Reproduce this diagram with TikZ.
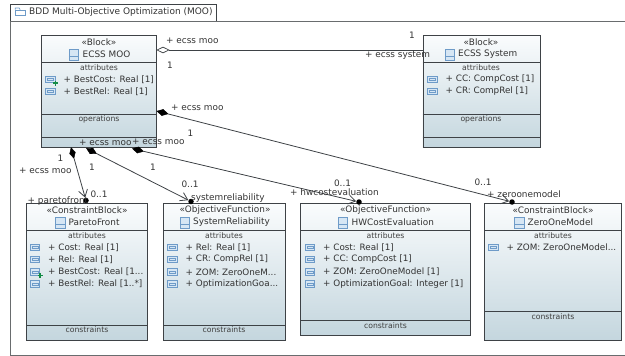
\documentclass[tikz,border=0pt]{standalone}
\usepackage{fontspec}
\setmainfont{DejaVu Sans}
\usetikzlibrary{positioning,arrows.meta,shapes.geometric,calc}

\definecolor{edgeGray}{RGB}{62,66,70}
\definecolor{frameGray}{RGB}{105,108,110}
\definecolor{topFill}{RGB}{250,252,253}
\definecolor{botFill}{RGB}{196,214,222}
\definecolor{iconBlue}{RGB}{110,155,200}
\definecolor{iconFill}{RGB}{214,230,244}
\definecolor{plusGreen}{RGB}{20,140,70}

\tikzset{
  umlblock/.style={draw=edgeGray, line width=.9pt, top color=topFill, bottom color=botFill, inner sep=0pt, anchor=north west},
  rolename/.style={font=\fontsize{8.9}{10}\selectfont, text=black!80, inner sep=0pt},
  compname/.style={font=\fontsize{7.7}{9}\selectfont, text=black!75, inner sep=0pt},
  attr/.style={font=\fontsize{8.8}{10}\selectfont, text=black!80, inner sep=0pt, anchor=west},
  icon/.style={draw=iconBlue, fill=iconFill, line width=.7pt, minimum width=9.5pt, minimum height=6.5pt, inner sep=0pt},
  headicon/.style={draw=iconBlue, fill=iconFill, line width=.6pt, minimum width=9.5pt, minimum height=11pt, inner sep=0pt},
  comp/.style={edgeGray, line width=.8pt},
  assoc/.style={edgeGray, line width=.8pt},
  ownerTip/.style={draw=black, fill=black, diamond, minimum width=11.5pt, minimum height=6.5pt, inner sep=0pt},
  ball/.style={fill=black, circle, minimum size=5.5pt, inner sep=0pt},
  navArrow/.style={-{Straight Barb[length=7pt,width=9pt]}},
}
% one box: name, x1, y1, x2, y2
\newcommand{\umlbox}[5]{
  \node[umlblock, minimum width=#4pt-#2pt, minimum height=#5pt-#3pt] (#1) at (#2,#3) {};
}
% one attribute row: name, x of icon, y, text
\newcommand{\attrow}[4]{
  \node[icon] (#1) at (#2,#3) {};
  \draw[iconBlue, line width=.6pt] ($(#1.center)+(-2.8pt,-1.2pt)$) rectangle ($(#1.center)+(2.8pt,1.2pt)$);
  \node[attr] (#1T) at (#2+13,#3) {+ #4};
}
\newcommand{\plusmark}[1]{
  \draw[plusGreen, line width=1.5pt] ($(#1.south east)+(-2.6pt,0)$) -- ($(#1.south east)+(2.6pt,0)$);
  \draw[plusGreen, line width=1.5pt] ($(#1.south east)+(0,-2.6pt)$) -- ($(#1.south east)+(0,2.6pt)$);
}
% icon in a header: name, x, y
\newcommand{\headmark}[3]{
  \node[headicon] (#1) at (#2,#3) {};
  \draw[iconBlue, line width=.6pt] ($(#1.west)+(0,-1.5pt)$) -- ($(#1.east)+(0,-1.5pt)$);
}

\begin{document}
\begin{tikzpicture}[x=1pt, y=-1pt]
    \useasboundingbox (0,0) rectangle (625,356);

    % frame and tab
    \draw[frameGray, line width=.9pt] (626,21) -- (10,21) -- (10,355) -- (626,355);
    \draw[edgeGray, line width=.7pt] (10,21) -- (10,4) -- (216,4) -- (216,21);
    \node[draw=iconBlue, line width=.7pt, minimum width=10pt, minimum height=5.5pt, inner sep=0pt] (tabIcon) at (20.5,12.8) {};
    \draw[iconBlue, line width=.7pt] (tabIcon.north west) -- ++(0,-1.8) -- ++(4,0) -- ++(1,1.8);
    \node[rolename, anchor=west, font=\fontsize{9}{10}\selectfont] (frameTitle) at (29,12) {BDD Multi-Objective Optimization (MOO)};

    % blocks
    \umlbox{moo}{41}{35}{156}{147}
    \umlbox{system}{422.5}{35}{539.5}{147}
    \umlbox{pareto}{26}{203}{147}{340}
    \umlbox{sysrel}{163}{203}{285}{340}
    \umlbox{hwcost}{300}{203}{470}{335}
    \umlbox{zeroone}{484}{203}{621}{340}

    % compartments
    \draw[comp] (41,62) -- (156,62);
    \draw[comp] (41,114) -- (156,114);
    \draw[comp] (41,137.5) -- (156,137.5);
    \draw[comp] (422.5,62) -- (539.5,62);
    \draw[comp] (422.5,114) -- (539.5,114);
    \draw[comp] (422.5,137.5) -- (539.5,137.5);
    \draw[comp] (26,230) -- (147,230);
    \draw[comp] (26,325) -- (147,325);
    \draw[comp] (163,230) -- (285,230);
    \draw[comp] (163,325) -- (285,325);
    \draw[comp] (300,230) -- (470,230);
    \draw[comp] (300,320) -- (470,320);
    \draw[comp] (484,230) -- (621,230);
    \draw[comp] (484,311) -- (621,311);

    % headers
    \node[rolename] (mooSt) at (99,42.5) {«Block»};
    \node[rolename, anchor=west] (mooName) at (82.5,54.5) {ECSS MOO};
    \headmark{mooIcon}{74}{54.5}
    \node[compname] (mooAttr) at (99,67.5) {attributes};
    \node[compname] (mooOps) at (99,119.5) {operations};
    \node[rolename] (sysSt) at (481,42.5) {«Block»};
    \node[rolename, anchor=west] (sysName) at (458,54.5) {ECSS System};
    \headmark{sysIcon}{450}{54.5}
    \node[compname] (sysAttr) at (481,67.5) {attributes};
    \node[compname] (sysOps) at (481,119.5) {operations};
    \node[rolename] (parSt) at (87,210.5) {«ConstraintBlock»};
    \node[rolename, anchor=west] (parName) at (68.5,222.5) {ParetoFront};
    \headmark{parIcon}{60.5}{222.5}
    \node[compname] (parAttr) at (87,235.5) {attributes};
    \node[compname] (parCons) at (87,330) {constraints};
    \node[rolename] (relSt) at (225,210.5) {«ObjectiveFunction»};
    \node[rolename, anchor=west] (relName) at (193,222.5) {SystemReliability};
    \headmark{relIcon}{185}{222.5}
    \node[compname] (relAttr) at (224,235.5) {attributes};
    \node[compname] (relCons) at (224,330) {constraints};
    \node[rolename] (hwSt) at (385.5,210.5) {«ObjectiveFunction»};
    \node[rolename, anchor=west] (hwName) at (351.5,222.5) {HWCostEvaluation};
    \headmark{hwIcon}{343}{222.5}
    \node[compname] (hwAttr) at (385.5,235.5) {attributes};
    \node[compname] (hwCons) at (385.5,325.5) {constraints};
    \node[rolename] (zomSt) at (553,210.5) {«ConstraintBlock»};
    \node[rolename, anchor=west] (zomName) at (527.5,222.5) {ZeroOneModel};
    \headmark{zomIcon}{519.5}{222.5}
    \node[compname] (zomAttr) at (553,235.5) {attributes};
    \node[compname] (zomCons) at (553,316.5) {constraints};

    % attributes
    \attrow{a1}{50.5}{79.5}{BestCost: Real [1]}
    \plusmark{a1}
    \attrow{a2}{50.5}{91.5}{BestRel: Real [1]}
    \attrow{b1}{432.5}{79.5}{CC: CompCost [1]}
    \attrow{b2}{432.5}{91.5}{CR: CompRel [1]}
    \attrow{c1}{35}{247.5}{Cost: Real [1]}
    \attrow{c2}{35}{259.5}{Rel: Real [1]}
    \attrow{c3}{35}{272}{BestCost: Real [1...}
    \plusmark{c3}
    \attrow{c4}{35}{284}{BestRel: Real [1..*]}
    \attrow{d1}{172.5}{247.5}{Rel: Real [1]}
    \attrow{d2}{172.5}{259.5}{CR: CompRel [1]}
    \attrow{d3}{172.5}{272}{ZOM: ZeroOneM...}
    \attrow{d4}{172.5}{284}{OptimizationGoa...}
    \attrow{e1}{310}{247.5}{Cost: Real [1]}
    \attrow{e2}{310}{259.5}{CC: CompCost [1]}
    \attrow{e3}{310}{272}{ZOM: ZeroOneModel [1]}
    \attrow{e4}{310}{284}{OptimizationGoal: Integer [1]}
    \attrow{f1}{493.5}{247.5}{ZOM: ZeroOneModel...}

    % owner ends and target ends
    \node[draw=edgeGray, fill=white, diamond, minimum width=12pt, minimum height=6pt, inner sep=0pt, line width=.7pt] (aggEnd) at (163,50) {};
    \node[ownerTip, rotate=-14] (ownZero) at (162.5,112.5) {};
    \node[ownerTip, rotate=-14] (ownHw) at (138,150) {};
    \node[ownerTip, rotate=-28] (ownRel) at (91.5,151) {};
    \node[ownerTip, rotate=-75, minimum width=11pt, minimum height=6pt] (ownPar) at (72.5,153) {};
    \node[ball] (ballPar) at (86,200.5) {};
    \node[ball] (ballRel) at (191,201.5) {};
    \node[ball] (ballHw) at (359,202) {};
    \node[ball] (ballZom) at (512,202) {};

    % connectors
    \draw[assoc] (aggEnd.east) -- (system.west |- aggEnd);
    \draw[assoc, navArrow] (ownZero) -- (ballZom);
    \draw[assoc, navArrow] (ownHw) -- (ballHw);
    \draw[assoc, navArrow] (ownRel) -- (ballRel);
    \draw[assoc, navArrow] (ownPar) -- (ballPar);

    % role labels
    \node[rolename, anchor=west] (r1) at (166,40.5) {+ ecss moo};
    \node[rolename] (m1) at (170,65.5) {1};
    \node[rolename] (m2) at (412,35) {1};
    \node[rolename, anchor=west] (r2) at (365,55.5) {+ ecss system};
    \node[rolename, anchor=west] (r3) at (171,107.5) {+ ecss moo};
    \node[rolename] (m3) at (190.5,133.5) {1};
    \node[rolename, anchor=west] (r4) at (79,142.5) {+ ecss moo};
    \node[rolename, anchor=west] (r5) at (132,142) {+ ecss moo};
    \node[rolename] (m4) at (60.5,158) {1};
    \node[rolename] (m5) at (92,167) {1};
    \node[rolename] (m6) at (153,167) {1};
    \node[rolename, anchor=west] (r6) at (19,170.5) {+ ecss moo};
    \node[rolename] (m7) at (99,194) {0..1};
    \node[rolename, anchor=west] (r7) at (27.5,201.5) {+ paretofront};
    \node[rolename] (m8) at (190,184.5) {0..1};
    \node[rolename, anchor=west] (r8) at (191,198.5) {systemreliability};
    \node[rolename, anchor=west] (r9) at (290,192) {+ hwcostevaluation};
    \node[rolename] (m9) at (342.5,183.5) {0..1};
    \node[rolename] (m10) at (483,182.5) {0..1};
    \node[rolename, anchor=west] (r10) at (487,194.5) {+ zeroonemodel};
\end{tikzpicture}
\end{document}
